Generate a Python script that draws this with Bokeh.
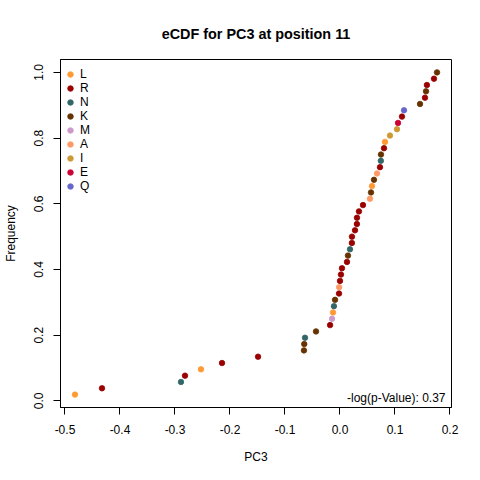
import numpy as np
from bokeh.plotting import figure
from bokeh.models import (Range1d, FixedTicker, PrintfTickFormatter, Legend,
                          LegendItem, Label)
from bokeh.embed import file_html
from bokeh.resources import INLINE

# ---- data (sorted ascending, as plotted in the eCDF) ----
residues = ["L", "R", "N", "R", "L", "R", "R", "K", "K", "N",
            "K", "R", "M", "L", "N", "K", "R", "A", "R", "R",
            "R", "R", "K", "N", "R", "R", "R", "R", "R", "R",
            "R", "A", "K", "L", "K", "A", "R", "N", "K", "R",
            "L", "I", "I", "E", "R", "Q", "K", "R", "K", "R",
            "R", "K"]
pc3_values = [-0.4818, -0.4327, -0.2891, -0.2818, -0.2527, -0.2145, -0.1490, -0.0655, -0.0650, -0.0636,
              -0.0436, -0.0180, -0.0145, -0.0127, -0.0110, -0.0090, -0.0018, -0.0016, 0.0000, 0.0018,
              0.0036, 0.0127, 0.0145, 0.0182, 0.0216, 0.0218, 0.0273, 0.0307, 0.0309, 0.0345,
              0.0418, 0.0545, 0.0564, 0.0582, 0.0618, 0.0673, 0.0727, 0.0743, 0.0745, 0.0800,
              0.0818, 0.0909, 0.1036, 0.1055, 0.1127, 0.1164, 0.1455, 0.1545, 0.1564, 0.1580,
              0.1709, 0.1764]
legend_order = ["L", "R", "N", "K", "M", "A", "I", "E", "Q"]
residue_colors = {"L": "#FF9933", "R": "#990000", "N": "#336666", "K": "#663300",
                  "M": "#CC99CC", "A": "#FF9966", "I": "#CC9933", "E": "#CC0033",
                  "Q": "#6666CC"}
x_ticks = [-0.5, -0.4, -0.3, -0.2, -0.1, 0.0, 0.1, 0.2]
y_ticks = [0.0, 0.2, 0.4, 0.6, 0.8, 1.0]
title_text = "eCDF for PC3 at position 11"
x_label = "PC3"
y_label = "Frequency"
pvalue_text = "-log(p-Value): 0.37"

# ---- eCDF ----
vals = np.array(pc3_values)
res = np.array(residues)
n = len(vals)
freq = np.arange(1, n + 1) / n

# R-style ranges (data range extended by 4%)
xspan = vals.max() - vals.min()
yspan = freq.max() - freq.min()
x_range = Range1d(vals.min() - 0.04 * xspan, vals.max() + 0.04 * xspan)
y_range = Range1d(freq.min() - 0.04 * yspan, freq.max() + 0.04 * yspan)

FONT = "Liberation Sans"

p = figure(frame_width=391, frame_height=348,
           min_border_left=59, min_border_right=30,
           min_border_top=59, min_border_bottom=73,
           x_range=x_range, y_range=y_range,
           output_backend="svg", toolbar_location=None,
           title=title_text)

p.background_fill_color = "white"
p.border_fill_color = "white"
p.outline_line_color = "black"
p.outline_line_width = 1
p.xgrid.visible = False
p.ygrid.visible = False

p.title.align = "center"
p.title.text_font = FONT
p.title.text_font_size = "14.4px"
p.title.text_font_style = "bold"
p.title.text_color = "black"
p.title.standoff = 35

for ax in (p.xaxis[0], p.yaxis[0]):
    ax.axis_line_color = "black"
    ax.major_tick_line_color = "black"
    ax.major_tick_out = 7
    ax.major_tick_in = 0
    ax.minor_tick_line_color = None
    ax.major_label_text_font = FONT
    ax.major_label_text_font_size = "12px"
    ax.major_label_text_color = "black"
    ax.axis_label_text_font = FONT
    ax.axis_label_text_font_size = "12px"
    ax.axis_label_text_font_style = "normal"
    ax.axis_label_text_color = "black"
    ax.formatter = PrintfTickFormatter(format="%.1f")

p.xaxis[0].ticker = FixedTicker(ticks=x_ticks)
p.yaxis[0].ticker = FixedTicker(ticks=y_ticks)
p.xaxis[0].axis_label = x_label
p.yaxis[0].axis_label = y_label
p.xaxis[0].major_label_standoff = 10
p.xaxis[0].axis_label_standoff = 13
p.yaxis[0].major_label_orientation = "vertical"
p.yaxis[0].major_label_standoff = 10
p.yaxis[0].axis_label_standoff = 14

items = []
for r in legend_order:
    mask = res == r
    rend = p.scatter(vals[mask], freq[mask], size=5.5, marker="circle",
                     fill_color=residue_colors[r], line_color=residue_colors[r],
                     line_width=0.8)
    items.append(LegendItem(label=r, renderers=[rend]))

legend = Legend(items=items, location=(0, 214), padding=0, spacing=0,
                glyph_width=20, glyph_height=14, label_height=14,
                label_standoff=0, margin=0,
                label_text_font=FONT, label_text_font_size="12px",
                label_text_color="black",
                background_fill_alpha=0, border_line_alpha=0)
p.add_layout(legend)

p.add_layout(Label(x=385, y=9.5, x_units="screen", y_units="screen",
                   text=pvalue_text, text_align="right",
                   text_baseline="alphabetic", text_font=FONT,
                   text_font_size="12px", text_color="black"))

open("out.html", "w").write(file_html(p, INLINE))
